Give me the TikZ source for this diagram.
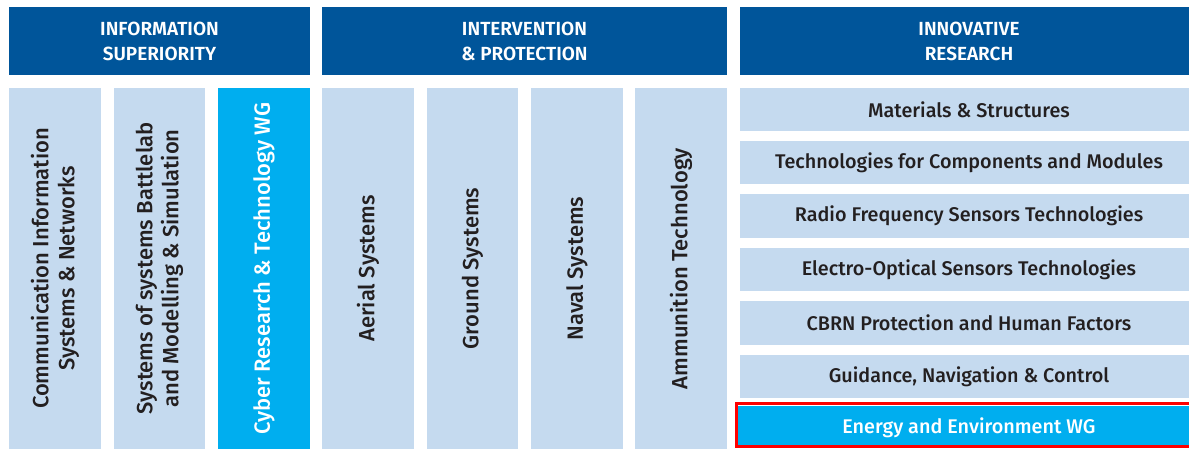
\documentclass[tikz,border=0pt]{standalone}
\usepackage{fontspec}
\setmainfont{Fira Sans}[UprightFont=* Medium, BoldFont=* SemiBold]
\definecolor{hdr}{HTML}{00559A}
\definecolor{lite}{HTML}{C5DAEF}
\definecolor{cyan}{HTML}{00AEEF}
\definecolor{ink}{HTML}{231F20}
\definecolor{hred}{HTML}{FF0000}
\tikzset{
  hdrbox/.style={fill=hdr, draw=none, text=white, font=\bfseries\fontsize{19}{25}\selectfont, align=center},
  colbox/.style={fill=lite, draw=none, text=ink, font=\fontsize{22}{26}\selectfont, align=center},
  hotbox/.style={fill=cyan, draw=none, text=white, font=\fontsize{22}{26}\selectfont, align=center},
  rowbox/.style={fill=lite, draw=none, text=ink, font=\fontsize{19.8}{22}\selectfont, align=center},
}
\begin{document}
\begin{tikzpicture}[x=1pt,y=-1pt]
\useasboundingbox (0,0) rectangle (1189,449);
% headers
\fill[hdr] (9,7) rectangle (310,75);
\node[hdrbox] (h1) at (159.5,41) {INFORMATION\\SUPERIORITY};
\fill[hdr] (322,7) rectangle (727,75);
\node[hdrbox] (h2) at (524.5,41) {INTERVENTION\\\& PROTECTION};
\fill[hdr] (740,7) rectangle (1189,75);
\node[hdrbox] (h3) at (969,41) {INNOVATIVE\\RESEARCH};
% vertical columns
\fill[lite] (9,88) rectangle (101,449);
\node[colbox, rotate=90] (c1) at (55,268.5) {Communication Information\\Systems \& Networks};
\fill[lite] (114,88) rectangle (205,449);
\node[colbox, rotate=90] (c2) at (159.5,268.5) {Systems of systems Battlelab\\and Modelling \& Simulation};
\fill[cyan] (218,88) rectangle (310,449);
\node[hotbox, rotate=90] (c3) at (264,268.5) {Cyber Research \& Technology WG};
\fill[lite] (322,88) rectangle (414,449);
\node[colbox, rotate=90] (c4) at (368,268.5) {Aerial Systems};
\fill[lite] (427,88) rectangle (518,449);
\node[colbox, rotate=90] (c5) at (472.5,268.5) {Ground Systems};
\fill[lite] (531,88) rectangle (623,449);
\node[colbox, rotate=90] (c6) at (577,268.5) {Naval Systems};
\fill[lite] (635,88) rectangle (727,449);
\node[colbox, rotate=90] (c7) at (681,268.5) {Ammunition Technology};
% rows
\fill[lite] (740,88) rectangle (1189,131);
\node[rowbox] (r1) at (969,109.5) {Materials \& Structures};
\fill[lite] (740,141) rectangle (1189,184);
\node[rowbox] (r2) at (969,162.5) {Technologies for Components and Modules};
\fill[lite] (740,194) rectangle (1189,238);
\node[rowbox] (r3) at (969,216) {Radio Frequency Sensors Technologies};
\fill[lite] (740,248) rectangle (1189,291);
\node[rowbox] (r4) at (969,269.5) {Electro-Optical Sensors Technologies};
\fill[lite] (740,301) rectangle (1189,345);
\node[rowbox] (r5) at (969,323) {CBRN Protection and Human Factors};
\fill[lite] (740,355) rectangle (1189,398);
\node[rowbox] (r6) at (969,376.5) {Guidance, Navigation \& Control};
\fill[cyan] (738,406) rectangle (1189,445);
\draw[hred, line width=3pt] (736.5,403.5) rectangle (1192,446.5);
\node[hotbox, font=\fontsize{19.8}{22}\selectfont] (r7) at (969,428) {Energy and Environment WG};
\end{tikzpicture}
\end{document}
